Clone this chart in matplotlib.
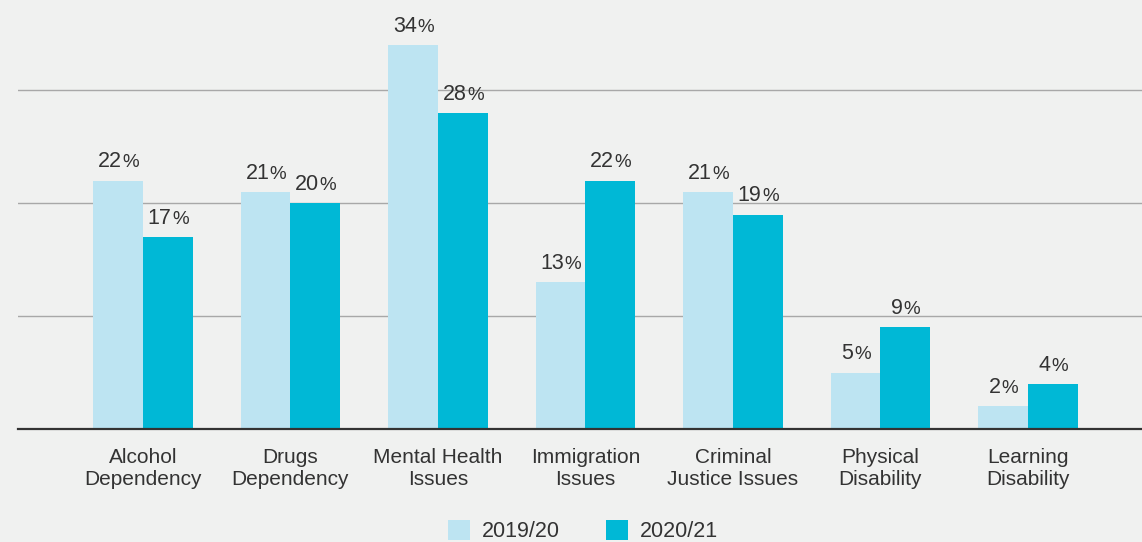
import matplotlib
matplotlib.use("Agg")
import matplotlib.pyplot as plt
from matplotlib.patches import Patch

categories = ["Alcohol\nDependency", "Drugs\nDependency", "Mental Health\nIssues",
              "Immigration\nIssues", "Criminal\nJustice Issues", "Physical\nDisability",
              "Learning\nDisability"]
series_names = ["2019/20", "2020/21"]
values_2019 = [22, 21, 34, 13, 21, 5, 2]
values_2020 = [17, 20, 28, 22, 19, 9, 4]

light = "#bde4f2"
dark = "#00b8d6"
bg = "#f0f1f0"
txt = "#333333"
FONT = "Liberation Sans"
plt.rcParams['font.family'] = [FONT, 'DejaVu Sans']

W, H = 1142, 542
fig = plt.figure(figsize=(W / 100, H / 100), dpi=100, facecolor=bg)
ax = fig.add_axes([18 / W, 1 - 429 / H, 1 - 18 / W, 429 / H], facecolor=bg)

bw = 0.336
x = list(range(len(categories)))
ax.bar([i - bw / 2 for i in x], values_2019, width=bw, color=light, zorder=2)
ax.bar([i + bw / 2 for i in x], values_2020, width=bw, color=dark, zorder=2)

ax.set_xlim(-0.847, 6.773)
ax.set_ylim(0, 38)
ax.set_yticks([10, 20, 30])
ax.yaxis.grid(True, color="#a8a8a8", linewidth=1, zorder=0)
ax.tick_params(axis='y', left=False, labelleft=False)
for s in ["top", "right", "left"]:
    ax.spines[s].set_visible(False)
ax.spines["bottom"].set_color("#333333")
ax.spines["bottom"].set_linewidth(1.6)
ax.spines["bottom"].set_zorder(3)

ax.set_xticks(x)
ax.set_xticklabels(categories, fontsize=15, color=txt, linespacing=1.2)
ax.tick_params(axis='x', length=0, pad=14)

# value labels: number + smaller percent sign
num_fs, pct_fs = 15.5, 13.5
digit_w = 0.556 * num_fs
pct_w = 0.889 * pct_fs


def label(xc, v):
    s = str(v)
    wn = digit_w * len(s)
    total = wn + pct_w
    right = wn - total / 2
    ax.annotate(s, (xc, v), xytext=(right, 9.5), textcoords="offset points",
                ha="right", va="baseline", fontsize=num_fs, color=txt)
    ax.annotate("%", (xc, v), xytext=(right + 0.4, 9.5), textcoords="offset points",
                ha="left", va="baseline", fontsize=pct_fs, color=txt)


for i in x:
    label(i - bw / 2, values_2019[i])
    label(i + bw / 2, values_2020[i])

handles = [Patch(facecolor=light, label=series_names[0]),
           Patch(facecolor=dark, label=series_names[1])]
fig.legend(handles=handles, loc="center", bbox_to_anchor=(583 / W, 1 - 531 / H),
           ncol=2, frameon=False, fontsize=15.5, handlelength=1.03, handleheight=1.03,
           handletextpad=0.55, columnspacing=2.1, labelcolor=txt, borderpad=0)

fig.savefig("out.png", dpi=100, facecolor=bg)
